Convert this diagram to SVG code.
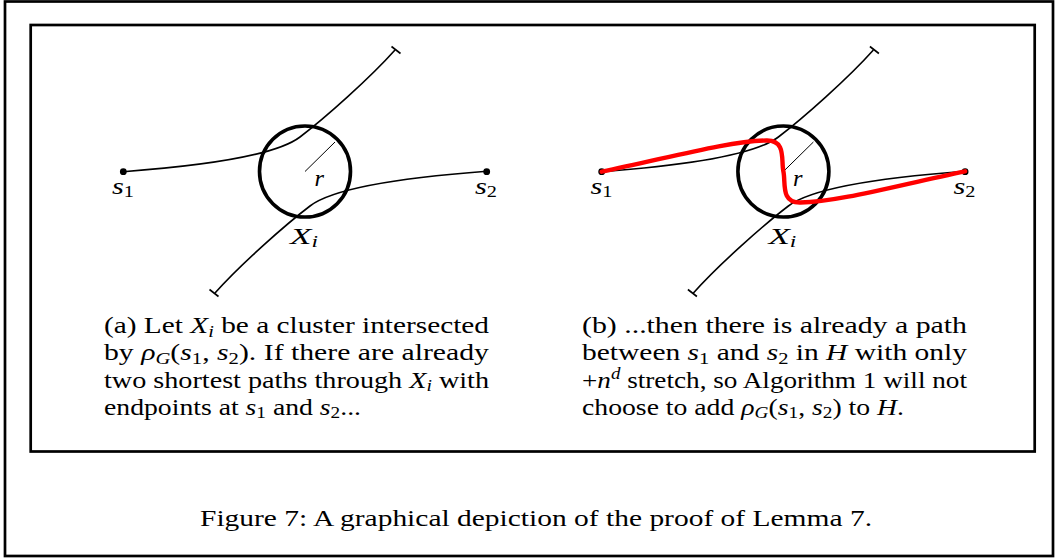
<svg xmlns="http://www.w3.org/2000/svg" width="1055" height="558" viewBox="0 0 1055 558" font-family="'Liberation Serif', 'Times New Roman', serif">
<style>
.frame{fill:none;stroke:#000;stroke-width:2.7}
.path{fill:none;stroke:#000;stroke-width:1.6}
.tick{fill:none;stroke:#000;stroke-width:1.6}
.cluster{fill:none;stroke:#000;stroke-width:3.6}
.radius{fill:none;stroke:#000;stroke-width:1}
.red{fill:none;stroke:#ff0000;stroke-width:4.4;stroke-linecap:round}
.dot{fill:#000}
text{font-family:'Liberation Serif','Times New Roman',serif;fill:#000}
.lbl{font-size:24px;font-style:italic}
.cap{font-size:23px}
.it{font-style:italic}
</style>
<defs>
<g id="curve">
<path class="path" d="M123.3,171.7 C200,166 275,156 300,137 C325,118 370,78 395,50"/>
<line class="tick" x1="391.5" y1="46.5" x2="400.5" y2="53.5"/>
</g>
</defs>
<rect class="frame" x="5" y="1.5" width="1048" height="554.5"/>
<rect class="frame" x="30.7" y="25" width="1004" height="426.5"/>

<g id="panel-a">
<g id="connectors-a">
<use href="#curve"/>
<use href="#curve" transform="rotate(180 305 171.5)"/>
<line class="radius" x1="305" y1="171.5" x2="335" y2="142"/>
</g>
<g id="cluster-a"><circle class="cluster" cx="305" cy="171.5" r="45.5"/>
<text class="lbl" x="290" y="243.5" font-size="24" textLength="28" lengthAdjust="spacingAndGlyphs">X<tspan font-size="16" dy="3.5">i</tspan></text>
<text class="lbl" x="314.5" y="185.5" textLength="9.5" lengthAdjust="spacingAndGlyphs">r</text></g>
<g id="s1-a"><circle class="dot" cx="123.3" cy="171.7" r="3.4"/><text class="lbl" x="112" y="194" textLength="22" lengthAdjust="spacingAndGlyphs">s<tspan font-size="16" font-style="normal" dy="3">1</tspan></text></g>
<g id="s2-a"><circle class="dot" cx="486.7" cy="171.7" r="3.4"/><text class="lbl" x="475" y="194" textLength="22" lengthAdjust="spacingAndGlyphs">s<tspan font-size="16" font-style="normal" dy="3">2</tspan></text></g>
</g>

<g id="panel-b" transform="translate(478.4,0)">
<g id="connectors-b">
<use href="#curve"/>
<use href="#curve" transform="rotate(180 305 171.5)"/>
<line class="radius" x1="305" y1="171.5" x2="335" y2="142"/>
</g>
<g id="cluster-b"><circle class="cluster" cx="305" cy="171.5" r="45.5"/>
<text class="lbl" x="290" y="243.5" font-size="24" textLength="28" lengthAdjust="spacingAndGlyphs">X<tspan font-size="16" dy="3.5">i</tspan></text>
<text class="lbl" x="314.5" y="185.5" textLength="9.5" lengthAdjust="spacingAndGlyphs">r</text></g>
<g id="s1-b"><circle class="dot" cx="123.3" cy="171.7" r="3.4"/><text class="lbl" x="112" y="194" textLength="22" lengthAdjust="spacingAndGlyphs">s<tspan font-size="16" font-style="normal" dy="3">1</tspan></text></g>
<g id="s2-b"><circle class="dot" cx="486.7" cy="171.7" r="3.4"/><text class="lbl" x="475" y="194" textLength="22" lengthAdjust="spacingAndGlyphs">s<tspan font-size="16" font-style="normal" dy="3">2</tspan></text></g>
<g id="red-path"><path class="red" d="M123.3,171.7 C190,158 250,141 288,140.5 C308,140 302.5,160 305,171.5 C307.5,183 302,203 322,202.5 C360,202 420,185 486.7,171.3"/></g>
</g>

<g id="caption-a">
<text class="cap" x="104" y="333" textLength="385" lengthAdjust="spacingAndGlyphs">(a) Let <tspan class="it">X</tspan><tspan class="it" font-size="16" dy="3.5">i</tspan><tspan dy="-3.5"> be a cluster intersected</tspan></text>
<text class="cap" x="104" y="360.3" textLength="385" lengthAdjust="spacingAndGlyphs">by <tspan class="it">ρ</tspan><tspan class="it" font-size="16" dy="3.5">G</tspan><tspan dy="-3.5">(</tspan><tspan class="it">s</tspan><tspan font-size="16" dy="3.5">1</tspan><tspan dy="-3.5">, </tspan><tspan class="it">s</tspan><tspan font-size="16" dy="3.5">2</tspan><tspan dy="-3.5">). If there are already</tspan></text>
<text class="cap" x="104" y="387.6" textLength="385" lengthAdjust="spacingAndGlyphs">two shortest paths through <tspan class="it">X</tspan><tspan class="it" font-size="16" dy="3.5">i</tspan><tspan dy="-3.5"> with</tspan></text>
<text class="cap" x="104" y="414.9" textLength="257" lengthAdjust="spacingAndGlyphs">endpoints at <tspan class="it">s</tspan><tspan font-size="16" dy="3.5">1</tspan><tspan dy="-3.5"> and </tspan><tspan class="it">s</tspan><tspan font-size="16" dy="3.5">2</tspan><tspan dy="-3.5">...</tspan></text>
</g>

<g id="caption-b">
<text class="cap" x="582" y="333" textLength="385" lengthAdjust="spacingAndGlyphs">(b) ...then there is already a path</text>
<text class="cap" x="582" y="360.3" textLength="385" lengthAdjust="spacingAndGlyphs">between <tspan class="it">s</tspan><tspan font-size="16" dy="3.5">1</tspan><tspan dy="-3.5"> and </tspan><tspan class="it">s</tspan><tspan font-size="16" dy="3.5">2</tspan><tspan dy="-3.5"> in </tspan><tspan class="it">H</tspan> with only</text>
<text class="cap" x="582" y="387.6" textLength="385" lengthAdjust="spacingAndGlyphs">+<tspan class="it">n</tspan><tspan class="it" font-size="16" dy="-9">d</tspan><tspan dy="9"> stretch, so Algorithm 1 will not</tspan></text>
<text class="cap" x="582" y="414.9" textLength="322" lengthAdjust="spacingAndGlyphs">choose to add <tspan class="it">ρ</tspan><tspan class="it" font-size="16" dy="3.5">G</tspan><tspan dy="-3.5">(</tspan><tspan class="it">s</tspan><tspan font-size="16" dy="3.5">1</tspan><tspan dy="-3.5">, </tspan><tspan class="it">s</tspan><tspan font-size="16" dy="3.5">2</tspan><tspan dy="-3.5">) to </tspan><tspan class="it">H</tspan>.</text>
</g>

<g id="figure-caption">
<text x="200" y="526" font-size="23.5" textLength="672" lengthAdjust="spacingAndGlyphs">Figure 7: A graphical depiction of the proof of Lemma 7.</text>
</g>
</svg>
